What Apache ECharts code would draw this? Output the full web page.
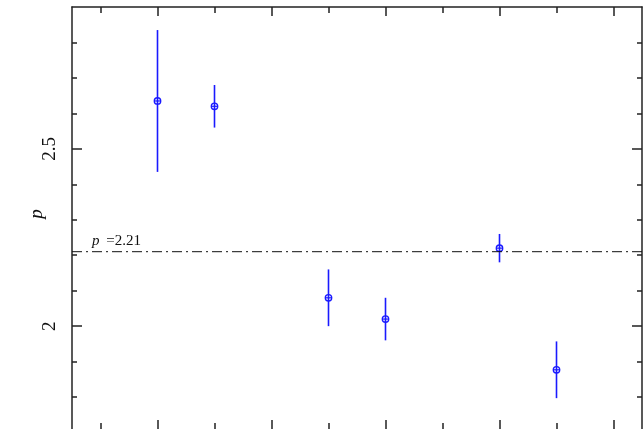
<!DOCTYPE html>
<html>
<head>
<meta charset="utf-8">
<script src="https://cdn.jsdelivr.net/npm/echarts@6/dist/echarts.min.js"></script>
<style>
  html, body { margin: 0; padding: 0; background: #fff; }
  #main { width: 643px; height: 429px; }
</style>
</head>
<body>
<div id="main"></div>
<script>
// data
const xValues = [2, 3, 5, 6, 8, 9]
const pValues = [2.635, 2.62, 2.08, 2.02, 2.22, 1.877]
const pErrors = [0.2, 0.06, 0.08, 0.06, 0.04, 0.08]
const pMean = 2.21

// tick positions
const xMajorTicks = [2, 4, 6, 8, 10]
const xMinorTicks = [1, 3, 5, 7, 9]
const yMajorTicks = [2, 2.5]
const yMinorTicks = [1.8, 1.9, 2.1, 2.2, 2.3, 2.4, 2.6, 2.7, 2.8]

const FONT = '"Liberation Serif", "DejaVu Serif", serif'
const AXIS_COLOR = '#222'
const BLUE = '#1a1aff'

const chart = echarts.init(document.getElementById('main'))

/** one axis per side and tick size (major / minor) */
function xAxisAt(position, ticks, len, showLine) {
  return {
    type: 'value',
    min: 0.5,
    max: 10.5,
    position: position,
    axisLine: { show: showLine, lineStyle: { color: AXIS_COLOR, width: 1.5 } },
    axisTick: { inside: true, length: len, customValues: ticks, lineStyle: { color: AXIS_COLOR, width: 1.5 } },
    axisLabel: { show: false },
    splitLine: { show: false }
  }
}

function yAxisAt(position, ticks, len, showLine, showLabel) {
  return {
    type: 'value',
    min: 1.71,
    max: 2.9,
    position: position,
    axisLine: { show: showLine, lineStyle: { color: AXIS_COLOR, width: 1.5 } },
    axisTick: { inside: true, length: len, customValues: ticks, lineStyle: { color: AXIS_COLOR, width: 1.5 } },
    axisLabel: {
      show: showLabel,
      customValues: ticks,
      rotate: 90,
      margin: 12,
      color: '#111',
      fontFamily: FONT,
      fontSize: 19,
      formatter: v => String(v)
    },
    splitLine: { show: false }
  }
}

const leftAxis = yAxisAt('left', yMajorTicks, 10, true, true)
leftAxis.name = 'p'
leftAxis.nameLocation = 'middle'
leftAxis.nameRotate = 90
leftAxis.nameGap = 26
leftAxis.nameMoveOverlap = false
leftAxis.nameTextStyle = { fontFamily: FONT, fontStyle: 'italic', fontSize: 19, color: '#111', padding: [0, 0, 0, 8] }

const option = {
  animation: false,
  backgroundColor: '#fff',
  grid: { left: 72, right: 1, top: 7, height: 424 },
  xAxis: [
    xAxisAt('bottom', xMajorTicks, 9, false),
    xAxisAt('bottom', xMinorTicks, 6, false),
    xAxisAt('top', xMajorTicks, 9, true),
    xAxisAt('top', xMinorTicks, 6, false)
  ],
  yAxis: [
    leftAxis,
    yAxisAt('left', yMinorTicks, 5, false, false),
    yAxisAt('right', yMajorTicks, 10, true, false),
    yAxisAt('right', yMinorTicks, 5, false, false)
  ],
  graphic: [{
    type: 'text',
    left: 92,
    top: 234,
    style: {
      text: '{i|p}  {n|=2.21}',
      rich: {
        i: { fontFamily: FONT, fontStyle: 'italic', fontSize: 15, fill: '#111' },
        n: { fontFamily: FONT, fontSize: 15, fill: '#111' }
      }
    }
  }],
  series: [
    {
      name: 'mean',
      type: 'line',
      xAxisIndex: 0,
      yAxisIndex: 0,
      symbol: 'none',
      silent: true,
      lineStyle: { color: '#111', width: 1, type: [10, 4, 2, 4] },
      data: [[0.5, pMean], [10.5, pMean]]
    },
    {
      name: 'p',
      type: 'custom',
      xAxisIndex: 0,
      yAxisIndex: 0,
      data: xValues.map((x, i) => [x, pValues[i], pErrors[i]]),
      renderItem(params, api) {
        const x = api.value(0)
        const y = api.value(1)
        const e = api.value(2)
        const c = api.coord([x, y])
        const hi = api.coord([x, y + e])
        const lo = api.coord([x, y - e])
        const r = 3.2
        return {
          type: 'group',
          children: [
            { type: 'line', shape: { x1: hi[0], y1: hi[1], x2: lo[0], y2: lo[1] }, style: { stroke: BLUE, lineWidth: 1.6 } },
            { type: 'circle', shape: { cx: c[0], cy: c[1], r: r }, style: { stroke: BLUE, fill: 'none', lineWidth: 1.4 } },
            { type: 'line', shape: { x1: c[0] - r, y1: c[1], x2: c[0] + r, y2: c[1] }, style: { stroke: BLUE, lineWidth: 1.2 } }
          ]
        }
      }
    }
  ]
}

chart.setOption(option)
</script>
</body>
</html>
